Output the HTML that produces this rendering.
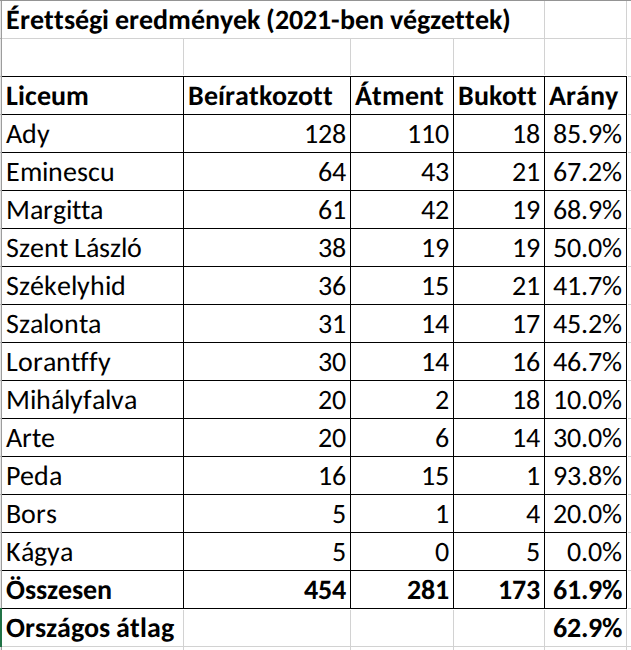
<!DOCTYPE html>
<html><head><meta charset="utf-8"><title>Érettségi eredmények</title><style>
html,body{margin:0;padding:0;background:#fff;overflow:hidden}
svg{display:block}
text{font-family:Carlito,"Liberation Sans",sans-serif;font-size:28px;fill:#000;font-kerning:none;font-variant-ligatures:none;text-rendering:geometricPrecision;font-size-adjust:0.4776}
.b{font-weight:bold;font-size-adjust:0.4849}
</style></head><body>
<svg width="631" height="650" viewBox="0 0 631 650" shape-rendering="crispEdges">
<rect x="0" y="0" width="631" height="650" fill="#fff"/>
<rect x="2" y="38" width="629" height="1" fill="#d2d2d2"/>
<rect x="628" y="76" width="3" height="1" fill="#d2d2d2"/>
<rect x="628" y="114" width="3" height="1" fill="#d2d2d2"/>
<rect x="628" y="152" width="3" height="1" fill="#d2d2d2"/>
<rect x="628" y="190" width="3" height="1" fill="#d2d2d2"/>
<rect x="628" y="228" width="3" height="1" fill="#d2d2d2"/>
<rect x="628" y="266" width="3" height="1" fill="#d2d2d2"/>
<rect x="628" y="304" width="3" height="1" fill="#d2d2d2"/>
<rect x="628" y="342" width="3" height="1" fill="#d2d2d2"/>
<rect x="628" y="380" width="3" height="1" fill="#d2d2d2"/>
<rect x="628" y="418" width="3" height="1" fill="#d2d2d2"/>
<rect x="628" y="456" width="3" height="1" fill="#d2d2d2"/>
<rect x="628" y="494" width="3" height="1" fill="#d2d2d2"/>
<rect x="628" y="532" width="3" height="1" fill="#d2d2d2"/>
<rect x="628" y="570" width="3" height="1" fill="#d2d2d2"/>
<rect x="628" y="608" width="3" height="1" fill="#d2d2d2"/>
<rect x="2" y="646" width="629" height="1" fill="#d2d2d2"/>
<rect x="183" y="39" width="1" height="36" fill="#d2d2d2"/>
<rect x="183" y="610" width="1" height="40" fill="#d2d2d2"/>
<rect x="350" y="39" width="1" height="36" fill="#d2d2d2"/>
<rect x="350" y="610" width="1" height="40" fill="#d2d2d2"/>
<rect x="453" y="39" width="1" height="36" fill="#d2d2d2"/>
<rect x="453" y="610" width="1" height="40" fill="#d2d2d2"/>
<rect x="544" y="39" width="1" height="36" fill="#d2d2d2"/>
<rect x="544" y="610" width="1" height="40" fill="#d2d2d2"/>
<rect x="626" y="39" width="1" height="36" fill="#d2d2d2"/>
<rect x="626" y="610" width="1" height="40" fill="#d2d2d2"/>
<rect x="544" y="1" width="1" height="37" fill="#d2d2d2"/>
<rect x="626" y="1" width="1" height="37" fill="#d2d2d2"/>
<rect x="2" y="76" width="625" height="1" fill="#000"/>
<rect x="2" y="114" width="625" height="1" fill="#000"/>
<rect x="2" y="152" width="625" height="1" fill="#000"/>
<rect x="2" y="190" width="625" height="1" fill="#000"/>
<rect x="2" y="228" width="625" height="1" fill="#000"/>
<rect x="2" y="266" width="625" height="1" fill="#000"/>
<rect x="2" y="304" width="625" height="1" fill="#000"/>
<rect x="2" y="342" width="625" height="1" fill="#000"/>
<rect x="2" y="380" width="625" height="1" fill="#000"/>
<rect x="2" y="418" width="625" height="1" fill="#000"/>
<rect x="2" y="456" width="625" height="1" fill="#000"/>
<rect x="2" y="494" width="625" height="1" fill="#000"/>
<rect x="2" y="532" width="625" height="1" fill="#000"/>
<rect x="2" y="570" width="625" height="1" fill="#000"/>
<rect x="2" y="608" width="625" height="1" fill="#000"/>
<rect x="183" y="76" width="1" height="533" fill="#000"/>
<rect x="350" y="76" width="1" height="533" fill="#000"/>
<rect x="453" y="76" width="1" height="533" fill="#000"/>
<rect x="544" y="76" width="1" height="533" fill="#000"/>
<rect x="626" y="76" width="1" height="533" fill="#000"/>
<rect x="0" y="0" width="1" height="650" fill="#e6e6e6"/>
<rect x="1" y="0" width="1" height="650" fill="#9d9d9d"/>
<rect x="0" y="38" width="1" height="1" fill="#b4b4b4"/>
<rect x="0" y="76" width="1" height="1" fill="#b4b4b4"/>
<rect x="0" y="114" width="1" height="1" fill="#b4b4b4"/>
<rect x="0" y="152" width="1" height="1" fill="#b4b4b4"/>
<rect x="0" y="190" width="1" height="1" fill="#b4b4b4"/>
<rect x="0" y="228" width="1" height="1" fill="#b4b4b4"/>
<rect x="0" y="266" width="1" height="1" fill="#b4b4b4"/>
<rect x="0" y="304" width="1" height="1" fill="#b4b4b4"/>
<rect x="0" y="342" width="1" height="1" fill="#b4b4b4"/>
<rect x="0" y="380" width="1" height="1" fill="#b4b4b4"/>
<rect x="0" y="418" width="1" height="1" fill="#b4b4b4"/>
<rect x="0" y="456" width="1" height="1" fill="#b4b4b4"/>
<rect x="0" y="494" width="1" height="1" fill="#b4b4b4"/>
<rect x="0" y="532" width="1" height="1" fill="#b4b4b4"/>
<rect x="0" y="570" width="1" height="1" fill="#b4b4b4"/>
<rect x="0" y="608" width="1" height="1" fill="#b4b4b4"/>
<rect x="0" y="646" width="1" height="1" fill="#b4b4b4"/>
<rect x="0" y="608" width="2" height="39" fill="#217346"/>
<rect x="0" y="0" width="631" height="1" fill="#949494"/>
<text class="b" x="6 20 30 44 54 64 75 89 102 109 115 129 139 153 168 191 205 220 233 247 260 266 275 289 303 317 331 340 355 369 384 390 403 417 430 441 455 465 475 489 502" y="29">Érettségi eredmények (2021-ben végzettek)</text>
<text class="b" x="6 18 25 37 51 66" y="105">Liceum</text>
<text class="b" x="188 204 218 225 235 249 259 272 287 298 313 323" y="105">Beíratkozott</text>
<text class="b" x="355 372 382 405 419 434" y="105">Átment</text>
<text class="b" x="458 474 489 502 517 527" y="105">Bukott</text>
<text class="b" x="549 566 576 590 605" y="105">Arány</text>
<text x="6 22 37" y="143">Ady</text>
<text x="304 318 332" y="143">128</text>
<text x="407 421 435" y="143">110</text>
<text x="512 526" y="143">18</text>
<text x="553 567 581 588 602" y="143">85.9%</text>
<text x="6 20 42 48 63 77 88 100" y="181">Eminescu</text>
<text x="318 332" y="181">64</text>
<text x="421 435" y="181">43</text>
<text x="512 526" y="181">21</text>
<text x="553 567 581 588 602" y="181">67.2%</text>
<text x="6 30 43 53 66 72 81 90" y="219">Margitta</text>
<text x="318 332" y="219">61</text>
<text x="421 435" y="219">42</text>
<text x="512 526" y="219">19</text>
<text x="553 567 581 588 602" y="219">68.9%</text>
<text x="6 19 30 44 59 68 74 86 99 110 121 127" y="257">Szent László</text>
<text x="318 332" y="257">38</text>
<text x="421 435" y="257">19</text>
<text x="512 526" y="257">19</text>
<text x="553 567 581 588 602" y="257">50.0%</text>
<text x="6 19 30 44 57 71 77 90 105 111" y="295">Székelyhid</text>
<text x="318 332" y="295">36</text>
<text x="421 435" y="295">15</text>
<text x="512 526" y="295">21</text>
<text x="553 567 581 588 602" y="295">41.7%</text>
<text x="6 19 30 43 49 64 79 88" y="333">Szalonta</text>
<text x="318 332" y="333">31</text>
<text x="421 435" y="333">14</text>
<text x="512 526" y="333">17</text>
<text x="553 567 581 588 602" y="333">45.2%</text>
<text x="6 18 33 43 56 71 80 89 98" y="371">Lorantffy</text>
<text x="318 332" y="371">30</text>
<text x="421 435" y="371">14</text>
<text x="512 526" y="371">16</text>
<text x="553 567 581 588 602" y="371">46.7%</text>
<text x="6 30 36 51 64 70 83 92 105 111 124" y="409">Mihályfalva</text>
<text x="318 332" y="409">20</text>
<text x="435" y="409">2</text>
<text x="512 526" y="409">18</text>
<text x="553 567 581 588 602" y="409">10.0%</text>
<text x="6 22 32 41" y="447">Arte</text>
<text x="318 332" y="447">20</text>
<text x="435" y="447">6</text>
<text x="512 526" y="447">14</text>
<text x="553 567 581 588 602" y="447">30.0%</text>
<text x="6 20 34 49" y="485">Peda</text>
<text x="318 332" y="485">16</text>
<text x="421 435" y="485">15</text>
<text x="526" y="485">1</text>
<text x="553 567 581 588 602" y="485">93.8%</text>
<text x="6 21 36 46" y="523">Bors</text>
<text x="332" y="523">5</text>
<text x="435" y="523">1</text>
<text x="526" y="523">4</text>
<text x="553 567 581 588 602" y="523">20.0%</text>
<text x="6 21 34 47 60" y="561">Kágya</text>
<text x="332" y="561">5</text>
<text x="435" y="561">0</text>
<text x="526" y="561">5</text>
<text x="567 581 588 602" y="561">0.0%</text>
<text class="b" x="6 25 36 47 58 72 83 97" y="599">Összesen</text>
<text class="b" x="304 318 332" y="599">454</text>
<text class="b" x="407 421 435" y="599">281</text>
<text class="b" x="498 512 526" y="599">173</text>
<text class="b" x="553 567 581 588 602" y="599">61.9%</text>
<text class="b" x="6 25 35 46 57 71 84 99 110 116 130 140 147 161" y="637">Országos átlag</text>
<text class="b" x="553 567 581 588 602" y="637">62.9%</text>
</svg>
</body></html>
